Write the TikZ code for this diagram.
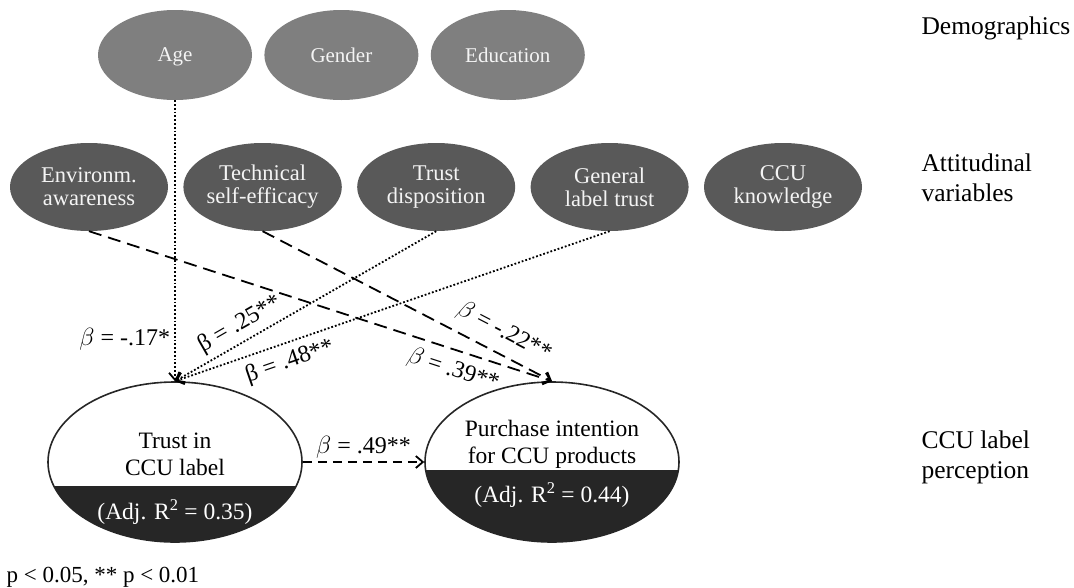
\documentclass[tikz,border=0pt]{standalone}
\usepackage{fontspec}
\setmainfont{Liberation Serif}
\usepackage{xcolor}
\usepackage{tikz}
\usetikzlibrary{shapes.geometric,arrows.meta,positioning}
\definecolor{DemoGray}{HTML}{7F7F7F}
\definecolor{AttGray}{HTML}{595959}
\definecolor{OutDark}{HTML}{262626}
\definecolor{SoftWhite}{HTML}{F4F4F4}

\begin{document}
\begin{tikzpicture}[
    x=1pt, y=-1pt,
    demo/.style={ellipse, fill=DemoGray, minimum width=154pt, minimum height=90pt, inner sep=0pt, align=center, text=SoftWhite, text depth=0pt, font=\fontsize{21}{22}\selectfont},
    attit/.style={ellipse, fill=AttGray, minimum width=158pt, minimum height=88pt, inner sep=0pt, align=center, text=SoftWhite, font=\fontsize{22.5}{23}\selectfont},
    outcome/.style={ellipse, draw=OutDark, line width=1.6pt, fill=white, minimum width=254pt, minimum height=160pt, inner sep=0pt, path picture={\fill[OutDark] ([yshift=-#1]path picture bounding box.west) rectangle (path picture bounding box.south east);}},
    ctext/.style={align=center, font=\fontsize{23.5}{27}\selectfont},
    rtext/.style={align=center, text=white, font=\fontsize{23.5}{27}\selectfont},
    level/.style={anchor=west, align=left, font=\fontsize{25.5}{30}\selectfont},
    coef/.style={font=\fontsize{24}{25}\selectfont, inner sep=1pt},
    dotarrow/.style={-{Straight Barb[length=7pt,width=12pt]}, line width=1.8pt, dotted},
    dasharrow/.style={-{Straight Barb[length=7pt,width=12pt]}, line width=1.8pt, dash pattern=on 13pt off 7pt}
  ]
    \useasboundingbox (0,0) rectangle (1074,587);

    % demographics
    \node[demo] (age) at (175,55) {Age};
    \node[demo, right=12pt of age] (gender) {Gender};
    \node[demo, right=12pt of gender] (edu) {Education};

    % attitudinal variables
    \node[attit] (envaw) at (89,187) {Environm.\\awareness};
    \node[attit, right=15pt of envaw] (techse) {Technical\\self-efficacy};
    \node[attit, right=15pt of techse] (trustdisp) {Trust\\disposition};
    \node[attit, right=15pt of trustdisp] (labeltrust) {General\\label trust};
    \node[attit, right=15pt of labeltrust] (ccuknow) {CCU\\knowledge};

    % CCU label perception
    \node[outcome=24pt] (trustccu) at (175,462) {};
    \node[outcome=8pt] (purchase) at (552,462) {};
    \node[ctext] (trustlbl) at ([yshift=8pt]trustccu.center) {Trust in\\CCU label};
    \node[rtext] (trustr) at ([yshift=-50pt]trustccu.center) {(Adj. R\textsuperscript{2} = 0.35)};
    \node[ctext] (purchlbl) at ([yshift=18pt]purchase.center) {Purchase intention\\for CCU products};
    \node[rtext] (purchr) at ([yshift=-33pt]purchase.center) {(Adj. R\textsuperscript{2} = 0.44)};

    % level labels
    \node[level] (demolvl) at (918,28) {Demographics};
    \node[level] (attlvl) at (918,178) {Attitudinal\\variables};
    \node[level] (perclvl) at (918,457) {CCU label\\perception};
    \node[anchor=west, font=\fontsize{23}{26}\selectfont] (note) at (3,577) {p < 0.05, ** p < 0.01};

    % paths
    \draw[dotarrow] (age) -- node[coef, left=3pt, pos=0.85] (bage) {$\beta$ = -.17*} (trustccu);
    \draw[dotarrow] (trustdisp.south) -- node[coef, sloped, above=4pt, pos=0.72] (bdisp) {β = .25**} (trustccu.north);
    \draw[dotarrow] (labeltrust.south) -- node[coef, sloped, below=6pt, pos=0.75] (blabel) {β = .48**} (trustccu.north);
    \draw[dasharrow] (envaw.south) -- node[coef, sloped, below=7pt, pos=0.8] (benv) {$\beta$ = .39**} (purchase.north);
    \draw[dasharrow] (techse.south) -- node[coef, sloped, above=9pt, pos=0.8] (btech) {$\beta$ = -.22**} (purchase.north);
    \draw[dasharrow, dash pattern=on 9pt off 6pt] (trustccu) -- node[coef, above=2pt] (bpath) {$\beta$ = .49**} (purchase);
  \end{tikzpicture}
\end{document}
